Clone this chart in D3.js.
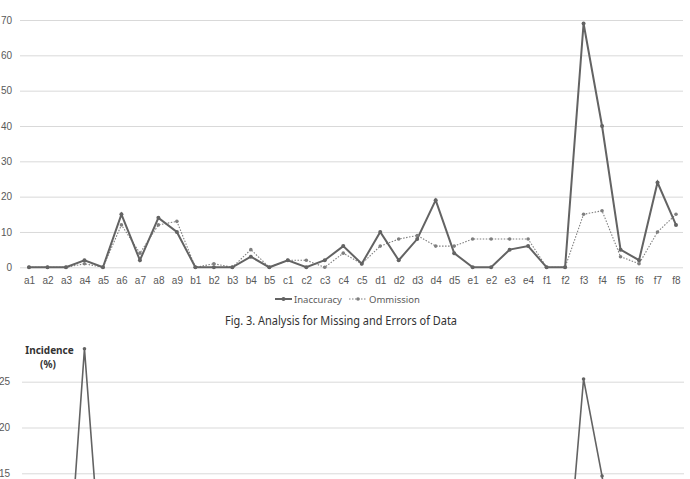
<!DOCTYPE html>
<html>
<head>
<meta charset="utf-8">
<script src="https://cdn.jsdelivr.net/npm/d3@7"></script>
<style>
  body { margin: 0; background: #fff; }
  svg { display: block; font-family: "Noto Sans", "DejaVu Sans", sans-serif; }
  .tick line { stroke: #d9d9d9; stroke-width: 1; }
  .domain { display: none; }
</style>
</head>
<body>
<div id="chart"></div>
<script>
// categories shared by both panels
const categories = ["a1","a2","a3","a4","a5","a6","a7","a8","a9",
                    "b1","b2","b3","b4","b5",
                    "c1","c2","c3","c4","c5",
                    "d1","d2","d3","d4","d5",
                    "e1","e2","e3","e4",
                    "f1","f2","f3","f4","f5","f6","f7","f8"];

// top panel (counts)
const inaccuracy = [0,0,0,2,0,15,2,14,10, 0,0,0,3,0, 2,0,2,6,1, 10,2,8,19,4, 0,0,5,6, 0,0,69,40,5,2,24,12];
const ommission  = [0,0,0,1,0,12,4,12,13, 0,1,0,5,0, 2,2,0,4,1, 6,8,9,6,6, 8,8,8,8, 0,0,15,16,3,1,10,15];
const topTicks = [0,10,20,30,40,50,60,70];

// bottom panel (incidence %), only the top of it is visible
const incidence = [0,0,0,28.6,2,6,1,5,4, 0,0,0,1,0, 1,0,1,2,0, 3,1,2,6,1, 0,0,1,2, 0,1.5,25.3,14.7,1,0,6,3];
const bottomTicks = [15,20,25];

const W = 690, H = 479;
const svg = d3.select("#chart").append("svg")
    .attr("width", W)
    .attr("height", H);

const x = d3.scalePoint()
    .domain(categories)
    .range([29, 676]);

// ---------- top panel ----------
const y = d3.scaleLinear()
    .domain([0, 70])
    .range([267.3, 20]);

svg.append("g")
    .attr("transform", "translate(20,0)")
    .call(d3.axisLeft(y).tickValues(topTicks).tickSize(-663).tickPadding(8))
    .call(g => g.selectAll("text")
        .attr("fill", "#595959")
        .attr("font-size", 10));

svg.append("g")
    .attr("transform", `translate(0,${y(0)})`)
    .call(d3.axisBottom(x).tickSize(0).tickPadding(10))
    .call(g => g.selectAll("text")
        .attr("fill", "#595959")
        .attr("font-size", 10));

const line = d3.line()
    .x((d, i) => x(categories[i]))
    .y(d => y(d));

svg.append("path")
    .datum(ommission)
    .attr("fill", "none")
    .attr("stroke", "#7f7f7f")
    .attr("stroke-width", 1.1)
    .attr("stroke-dasharray", "1.5,1.5")
    .attr("d", line);

svg.append("path")
    .datum(inaccuracy)
    .attr("fill", "none")
    .attr("stroke", "#636363")
    .attr("stroke-width", 2)
    .attr("d", line);

svg.append("g")
    .selectAll("circle")
    .data(ommission)
    .join("circle")
    .attr("cx", (d, i) => x(categories[i]))
    .attr("cy", d => y(d))
    .attr("r", 1.8)
    .attr("fill", "#7f7f7f");

svg.append("g")
    .selectAll("circle")
    .data(inaccuracy)
    .join("circle")
    .attr("cx", (d, i) => x(categories[i]))
    .attr("cy", d => y(d))
    .attr("r", 2)
    .attr("fill", "#636363");

// legend
const legend = svg.append("g").attr("font-size", 9.5).attr("fill", "#595959");
legend.append("line")
    .attr("x1", 275).attr("x2", 292).attr("y1", 299).attr("y2", 299)
    .attr("stroke", "#636363").attr("stroke-width", 2);
legend.append("circle").attr("cx", 283.5).attr("cy", 299).attr("r", 2).attr("fill", "#636363");
legend.append("text").attr("x", 294).attr("y", 302.5).text("Inaccuracy");
legend.append("line")
    .attr("x1", 349).attr("x2", 367).attr("y1", 299).attr("y2", 299)
    .attr("stroke", "#7f7f7f").attr("stroke-width", 1.1).attr("stroke-dasharray", "1.5,1.5");
legend.append("circle").attr("cx", 358).attr("cy", 299).attr("r", 1.8).attr("fill", "#7f7f7f");
legend.append("text").attr("x", 369).attr("y", 302.5).text("Ommission");

// caption
svg.append("text")
    .attr("x", 225)
    .attr("y", 325)
    .attr("font-size", 12.5)
    .attr("fill", "#333")
    .attr("textLength", 232)
    .attr("lengthAdjust", "spacingAndGlyphs")
    .text("Fig. 3. Analysis for Missing and Errors of Data");

// ---------- bottom panel ----------
const y2 = d3.scaleLinear()
    .domain([15, 25])
    .range([473.3, 381.7]);

svg.append("g")
    .attr("transform", "translate(22,0)")
    .call(d3.axisLeft(y2).tickValues(bottomTicks).tickSize(-662).tickPadding(12))
    .call(g => g.selectAll("text")
        .attr("fill", "#595959")
        .attr("font-size", 10));

svg.append("text")
    .attr("x", 49.5).attr("y", 353.5)
    .attr("text-anchor", "middle")
    .attr("font-size", 10).attr("font-weight", "bold").attr("fill", "#333")
    .text("Incidence");
svg.append("text")
    .attr("x", 48).attr("y", 368)
    .attr("text-anchor", "middle")
    .attr("font-size", 10).attr("font-weight", "bold").attr("fill", "#333")
    .text("(%)");

const line2 = d3.line()
    .x((d, i) => x(categories[i]))
    .y(d => y2(d));

svg.append("path")
    .datum(incidence)
    .attr("fill", "none")
    .attr("stroke", "#636363")
    .attr("stroke-width", 1.6)
    .attr("d", line2);

svg.append("g")
    .selectAll("circle")
    .data(incidence)
    .join("circle")
    .attr("cx", (d, i) => x(categories[i]))
    .attr("cy", d => y2(d))
    .attr("r", 1.8)
    .attr("fill", "#636363");
</script>
</body>
</html>
